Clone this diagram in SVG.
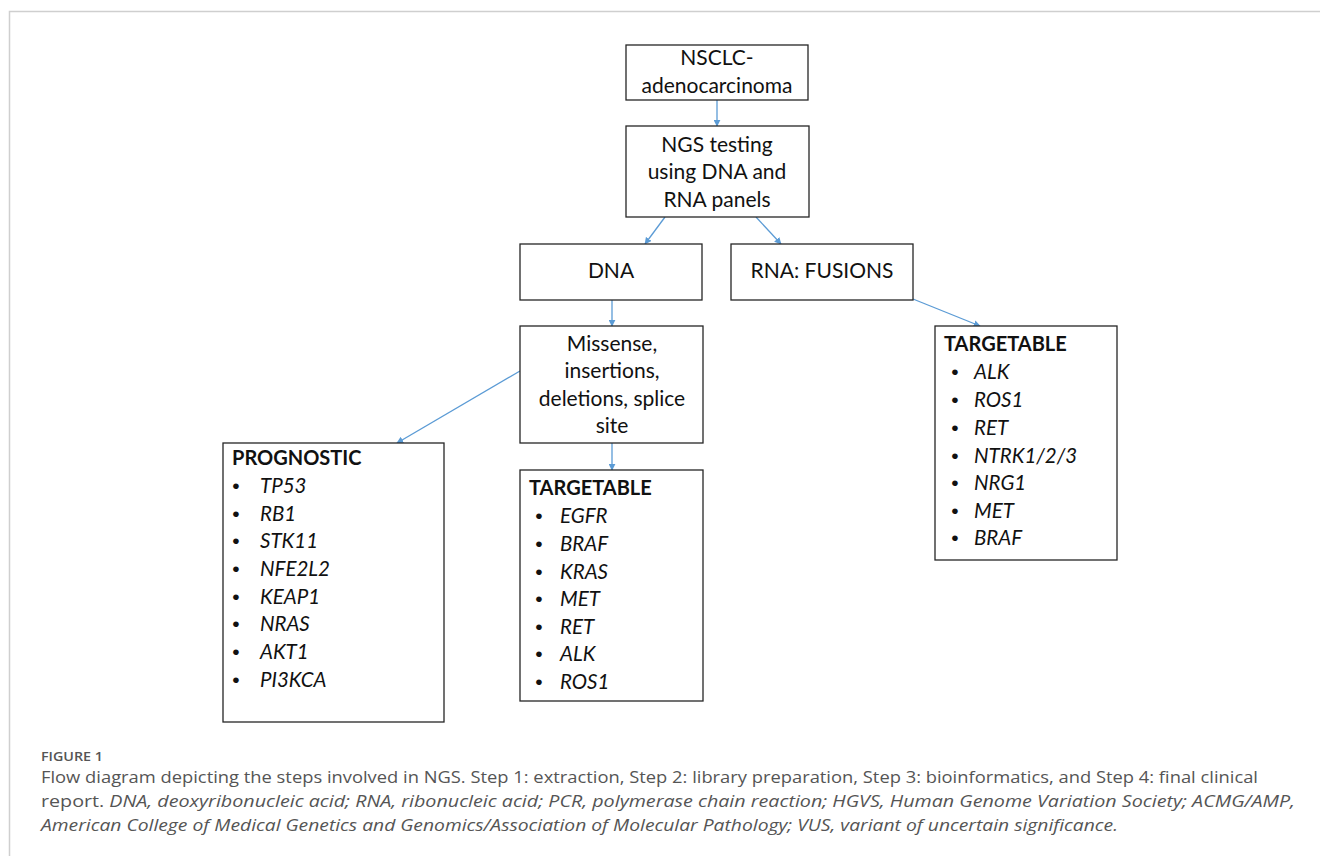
<svg xmlns="http://www.w3.org/2000/svg" width="1320" height="856" viewBox="0 0 1320 856">
<defs>
<marker id="ah" viewBox="0 0 10 10" refX="9" refY="5" markerWidth="7" markerHeight="7" markerUnits="userSpaceOnUse" orient="auto">
<path d="M0,0 L10,5 L0,10 z" fill="#5b9bd5"/>
</marker>
<style>
.box{fill:#fff;stroke:#262626;stroke-width:1.3}
.t{font-family:Lato,"Liberation Sans",sans-serif;font-size:21px;fill:#111}
.c{text-anchor:middle}
.b{font-weight:bold;font-size:20px}
.i{font-style:italic;font-size:20.5px}
.bu{font-family:"Liberation Sans",sans-serif;font-size:21px;text-anchor:middle;fill:#111}
.conn{stroke:#5b9bd5;stroke-width:1.3;fill:none;marker-end:url(#ah)}
.cap{font-family:"Open Sans","Liberation Sans",sans-serif;fill:#555}
</style>
</defs>
<rect width="1320" height="856" fill="#fff"/>
<path d="M9.5,856 V11.5 H1320" fill="none" stroke="#cfcfcf" stroke-width="1.5"/>

<g id="connectors">
<line class="conn" x1="717" y1="100" x2="717" y2="126"/>
<line class="conn" x1="665" y1="217" x2="645" y2="244"/>
<line class="conn" x1="756" y1="217" x2="781" y2="244"/>
<line class="conn" x1="612" y1="300" x2="612" y2="326"/>
<line class="conn" x1="913" y1="299" x2="980" y2="326"/>
<line class="conn" x1="520" y1="371" x2="397" y2="443"/>
<line class="conn" x1="612" y1="443" x2="612" y2="470"/>
</g>

<g id="n-nsclc">
<rect class="box" x="626" y="45" width="182" height="55"/>
<text class="t c" x="717" y="65">NSCLC-</text>
<text class="t c" x="717" y="93">adenocarcinoma</text>
</g>
<g id="n-ngs">
<rect class="box" x="626" y="126" width="183" height="91"/>
<text class="t c" x="717" y="152">NGS testing</text>
<text class="t c" x="717" y="179">using DNA and</text>
<text class="t c" x="717" y="207">RNA panels</text>
</g>
<g id="n-dna">
<rect class="box" x="520" y="244" width="182" height="56"/>
<text class="t c" x="611" y="278">DNA</text>
</g>
<g id="n-rna">
<rect class="box" x="731" y="244" width="182" height="56"/>
<text class="t c" x="822" y="278">RNA: FUSIONS</text>
</g>
<g id="n-missense">
<rect class="box" x="520" y="326" width="183" height="117"/>
<text class="t c" x="612" y="351">Missense,</text>
<text class="t c" x="612" y="378">insertions,</text>
<text class="t c" x="612" y="406">deletions, splice</text>
<text class="t c" x="612" y="433">site</text>
</g>
<g id="n-prognostic">
<rect class="box" x="223" y="443" width="221" height="279"/>
<text class="t b" x="232" y="465">PROGNOSTIC</text>
<g class="t">
<text class="bu" x="236" y="493">•</text><text class="i" x="260" y="493">TP53</text>
<text class="bu" x="236" y="521">•</text><text class="i" x="260" y="521">RB1</text>
<text class="bu" x="236" y="548">•</text><text class="i" x="260" y="548">STK11</text>
<text class="bu" x="236" y="576">•</text><text class="i" x="260" y="576">NFE2L2</text>
<text class="bu" x="236" y="604">•</text><text class="i" x="260" y="604">KEAP1</text>
<text class="bu" x="236" y="631">•</text><text class="i" x="260" y="631">NRAS</text>
<text class="bu" x="236" y="659">•</text><text class="i" x="260" y="659">AKT1</text>
<text class="bu" x="236" y="687">•</text><text class="i" x="260" y="687">PI3KCA</text>
</g>
</g>
<g id="n-target-dna">
<rect class="box" x="520" y="470" width="183" height="231"/>
<text class="t b" x="529" y="495">TARGETABLE</text>
<g class="t">
<text class="bu" x="539" y="523">•</text><text class="i" x="560" y="523">EGFR</text>
<text class="bu" x="539" y="551">•</text><text class="i" x="560" y="551">BRAF</text>
<text class="bu" x="539" y="579">•</text><text class="i" x="560" y="579">KRAS</text>
<text class="bu" x="539" y="606">•</text><text class="i" x="560" y="606">MET</text>
<text class="bu" x="539" y="634">•</text><text class="i" x="560" y="634">RET</text>
<text class="bu" x="539" y="661">•</text><text class="i" x="560" y="661">ALK</text>
<text class="bu" x="539" y="689">•</text><text class="i" x="560" y="689">ROS1</text>
</g>
</g>
<g id="n-target-rna">
<rect class="box" x="935" y="326" width="182" height="234"/>
<text class="t b" x="944" y="351">TARGETABLE</text>
<g class="t">
<text class="bu" x="955" y="379">•</text><text class="i" x="974" y="379">ALK</text>
<text class="bu" x="955" y="407">•</text><text class="i" x="974" y="407">ROS1</text>
<text class="bu" x="955" y="435">•</text><text class="i" x="974" y="435">RET</text>
<text class="bu" x="955" y="463">•</text><text class="i" x="974" y="463">NTRK1/2/3</text>
<text class="bu" x="955" y="490">•</text><text class="i" x="974" y="490">NRG1</text>
<text class="bu" x="955" y="518">•</text><text class="i" x="974" y="518">MET</text>
<text class="bu" x="955" y="545">•</text><text class="i" x="974" y="545">BRAF</text>
</g>
</g>

<g id="caption">
<text class="cap" x="41" y="761" font-size="12" font-weight="600" fill="#666" textLength="62" lengthAdjust="spacingAndGlyphs">FIGURE 1</text>
<text class="cap" x="41" y="783" font-size="17" textLength="1217" lengthAdjust="spacingAndGlyphs">Flow diagram depicting the steps involved in NGS. Step 1: extraction, Step 2: library preparation, Step 3: bioinformatics, and Step 4: final clinical</text>
<text class="cap" x="41" y="807" font-size="17" textLength="1254" lengthAdjust="spacingAndGlyphs">report. <tspan font-style="italic">DNA, deoxyribonucleic acid; RNA, ribonucleic acid; PCR, polymerase chain reaction; HGVS, Human Genome Variation Society; ACMG/AMP,</tspan></text>
<text class="cap" x="41" y="831" font-size="17" font-style="italic" textLength="1077" lengthAdjust="spacingAndGlyphs">American College of Medical Genetics and Genomics/Association of Molecular Pathology; VUS, variant of uncertain significance.</text>
</g>
</svg>
